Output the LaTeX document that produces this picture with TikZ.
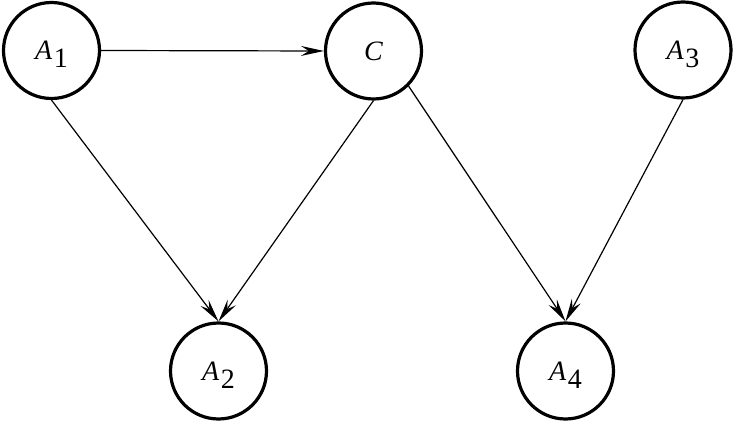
\documentclass[tikz,border=0pt]{standalone}
\usepackage{fontspec}
\setmainfont{Liberation Serif}
\usetikzlibrary{arrows.meta}
\newcommand{\sublab}[2]{\textit{#1}\hspace{1.5pt}\raisebox{-8pt}[0pt][0pt]{#2}}
\begin{document}
\begin{tikzpicture}[x=1pt,y=-1pt,
  vert/.style={circle,draw,line width=3.2pt,minimum size=96pt,inner sep=0pt,font=\fontsize{28}{32}\selectfont},
  conn/.style={line width=1.2pt,-{Stealth[length=23pt,width=10pt,inset=8pt]}}]
\useasboundingbox (0,0) rectangle (734,422);
\node[vert] (A1) at (51.5,50.5) {\sublab{A}{1}};
\node[vert] (C) at (373.5,51) {\textit{C}};
\node[vert] (A3) at (683,50) {\sublab{A}{3}};
\node[vert] (A2) at (218.5,371) {\sublab{A}{2}};
\node[vert] (A4) at (565.5,371) {\sublab{A}{4}};
\draw[conn] (A1.east) -- (C.west);
\draw[conn] (A1.south) -- (A2.north);
\draw[conn] (C.south) -- (A2.north);
\draw[conn] (C.-45) -- (A4.north);
\draw[conn] (A3.south) -- (A4.north);
\end{tikzpicture}
\end{document}
